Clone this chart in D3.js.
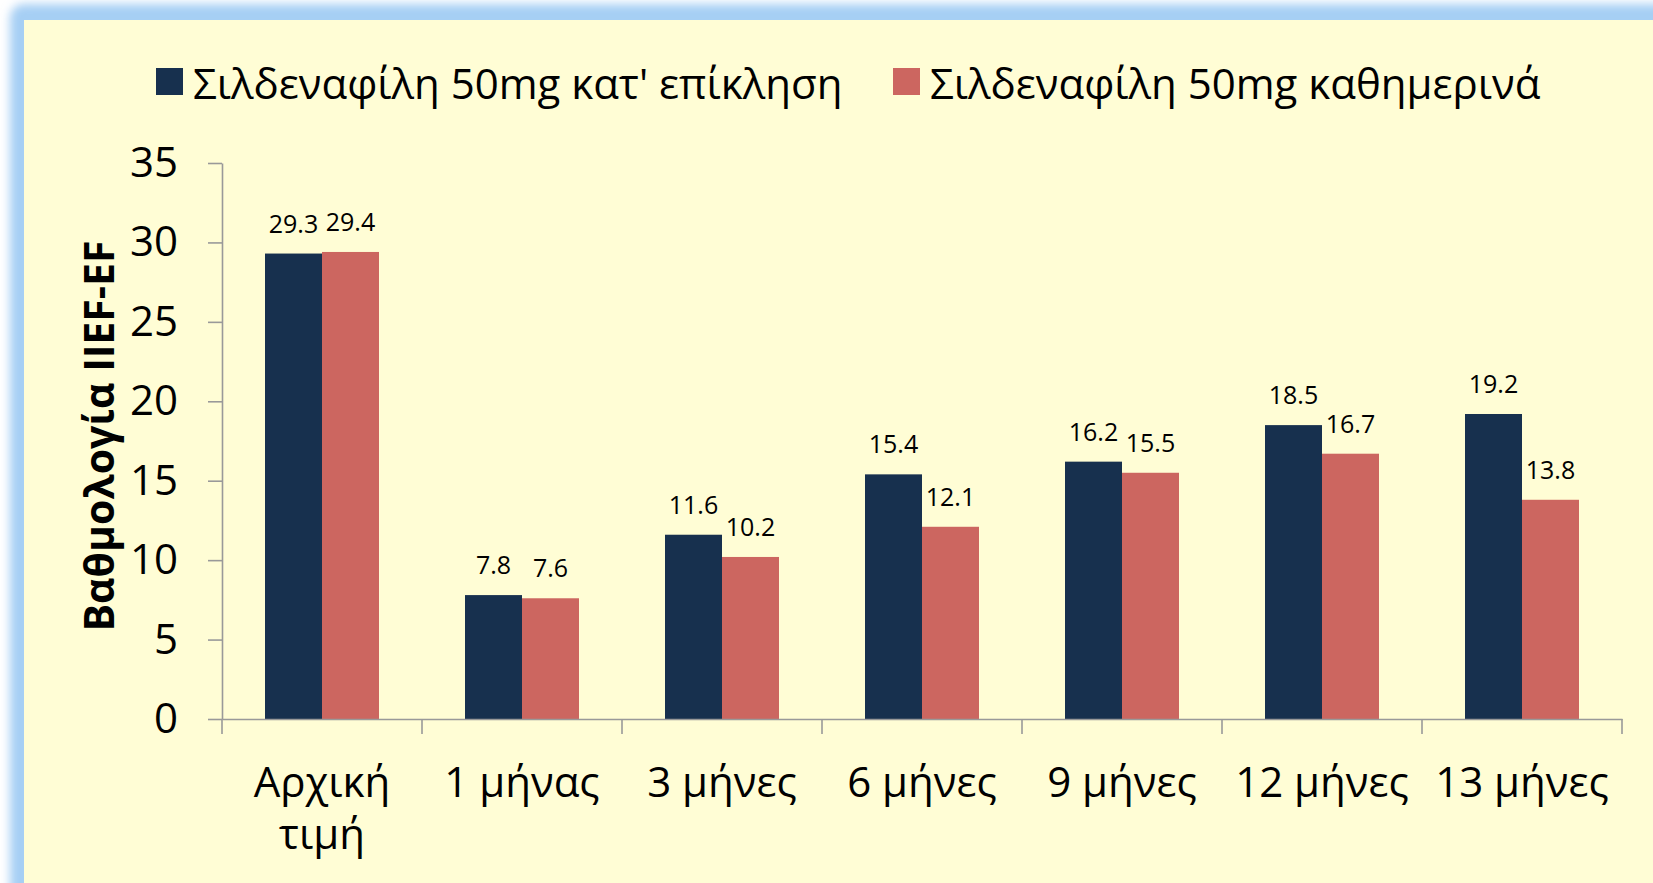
<!DOCTYPE html>
<html>
<head>
<meta charset="utf-8">
<script src="https://cdn.jsdelivr.net/npm/d3@7"></script>
<style>
  body { margin: 0; background: #ffffff; }
  svg { display: block; font-family: "Open Sans", sans-serif; }
</style>
</head>
<body>
<div id="chart"></div>
<script>
// chart data
var categories = ["Αρχική τιμή", "1 μήνας", "3 μήνες", "6 μήνες", "9 μήνες", "12 μήνες", "13 μήνες"];
var seriesNames = ["Σιλδεναφίλη 50mg κατ' επίκληση", "Σιλδεναφίλη 50mg καθημερινά"];
var onDemand = [29.3, 7.8, 11.6, 15.4, 16.2, 18.5, 19.2];
var daily = [29.4, 7.6, 10.2, 12.1, 15.5, 16.7, 13.8];
var yTicks = [0, 5, 10, 15, 20, 25, 30, 35];
var yTitle = "Βαθμολογία IIEF-EF";

var width = 1653, height = 883;
var colors = ["#17304e", "#cc6660"];

var svg = d3.select("#chart").append("svg")
    .attr("width", width)
    .attr("height", height);

// blue glowing frame
var defs = svg.append("defs");
defs.append("filter").attr("id", "glow")
    .attr("x", "-10%").attr("y", "-10%").attr("width", "120%").attr("height", "120%")
  .append("feGaussianBlur").attr("stdDeviation", 5);

svg.append("rect")
    .attr("x", 10).attr("y", 4)
    .attr("width", width + 40).attr("height", height + 40)
    .attr("rx", 14)
    .attr("fill", "#a6cff4")
    .attr("filter", "url(#glow)");

svg.append("rect")
    .attr("x", 24).attr("y", 20)
    .attr("width", width).attr("height", height)
    .attr("fill", "#fffdd5");

// scales
var x = d3.scaleBand().domain(categories).range([222, 1622]).padding(0);
var xSub = d3.scaleBand().domain([0, 1]).range([43, 157]).padding(0);
var y = d3.scaleLinear().domain([0, 35]).range([719, 163]);

// y axis
var yAxis = svg.append("g")
    .attr("transform", "translate(222,0)")
    .call(d3.axisLeft(y).tickValues(yTicks).tickSize(14).tickSizeOuter(0).tickPadding(30));
yAxis.select(".domain").attr("stroke", "#999").attr("stroke-width", 1.6);
yAxis.selectAll(".tick line").attr("stroke", "#999").attr("stroke-width", 1.6);
yAxis.selectAll(".tick text")
    .attr("font-family", "Open Sans")
    .attr("font-size", 42)
    .attr("fill", "#000");

// bars
var series = [onDemand, daily];
series.forEach(function(vals, s) {
  svg.append("g").selectAll("rect")
    .data(vals)
    .enter().append("rect")
      .attr("x", function(d, i) { return x(categories[i]) + xSub(s); })
      .attr("y", function(d) { return y(d); })
      .attr("width", xSub.bandwidth())
      .attr("height", function(d) { return y(0) - y(d); })
      .attr("fill", colors[s]);

  svg.append("g").selectAll("text")
    .data(vals)
    .enter().append("text")
      .attr("x", function(d, i) { return x(categories[i]) + xSub(s) + xSub.bandwidth() / 2; })
      .attr("y", function(d) { return y(d) - 21; })
      .attr("text-anchor", "middle")
      .attr("font-size", 25)
      .attr("fill", "#000")
      .text(function(d) { return d.toFixed(1); });
});

// x axis
var xAxis = svg.append("g")
    .attr("transform", "translate(0,719)")
    .call(d3.axisBottom(x).tickSize(0).tickSizeOuter(0).tickFormat(""));
xAxis.select(".domain").attr("stroke", "#999").attr("stroke-width", 1.6);

// category separators
var bounds = categories.map(function(c) { return x(c); }).concat([x.range()[1]]);
xAxis.selectAll(".sep")
    .data(bounds)
    .enter().append("line")
      .attr("x1", function(d) { return d; })
      .attr("x2", function(d) { return d; })
      .attr("y1", 0).attr("y2", 15)
      .attr("stroke", "#999").attr("stroke-width", 1.6);

// category labels (wrap two-word baseline label)
var catLabels = svg.append("g").selectAll("text")
    .data(categories)
    .enter().append("text")
      .attr("x", function(d) { return x(d) + x.bandwidth() / 2; })
      .attr("y", 797)
      .attr("text-anchor", "middle")
      .attr("font-size", 42)
      .attr("fill", "#000");
catLabels.each(function(d) {
  var lines = d === "Αρχική τιμή" ? ["Αρχική", "τιμή"] : [d];
  var t = d3.select(this);
  lines.forEach(function(l, i) {
    t.append("tspan")
      .attr("x", x(d) + x.bandwidth() / 2)
      .attr("dy", i === 0 ? 0 : 52)
      .text(l);
  });
});

// y axis title
svg.append("text")
    .attr("transform", "translate(114,436) rotate(-90)")
    .attr("text-anchor", "middle")
    .attr("font-size", 41)
    .attr("font-weight", "bold")
    .attr("fill", "#000")
    .text(yTitle);

// legend
var legendPos = [156, 893];
var legend = svg.append("g").selectAll("g")
    .data(seriesNames)
    .enter().append("g")
      .attr("transform", function(d, i) { return "translate(" + legendPos[i] + ",0)"; });
legend.append("rect")
    .attr("x", 0).attr("y", 68)
    .attr("width", 27).attr("height", 27)
    .attr("fill", function(d, i) { return colors[i]; });
legend.append("text")
    .attr("x", 37).attr("y", 99)
    .attr("font-size", 42)
    .attr("fill", "#000")
    .text(function(d) { return d; });
</script>
</body>
</html>
